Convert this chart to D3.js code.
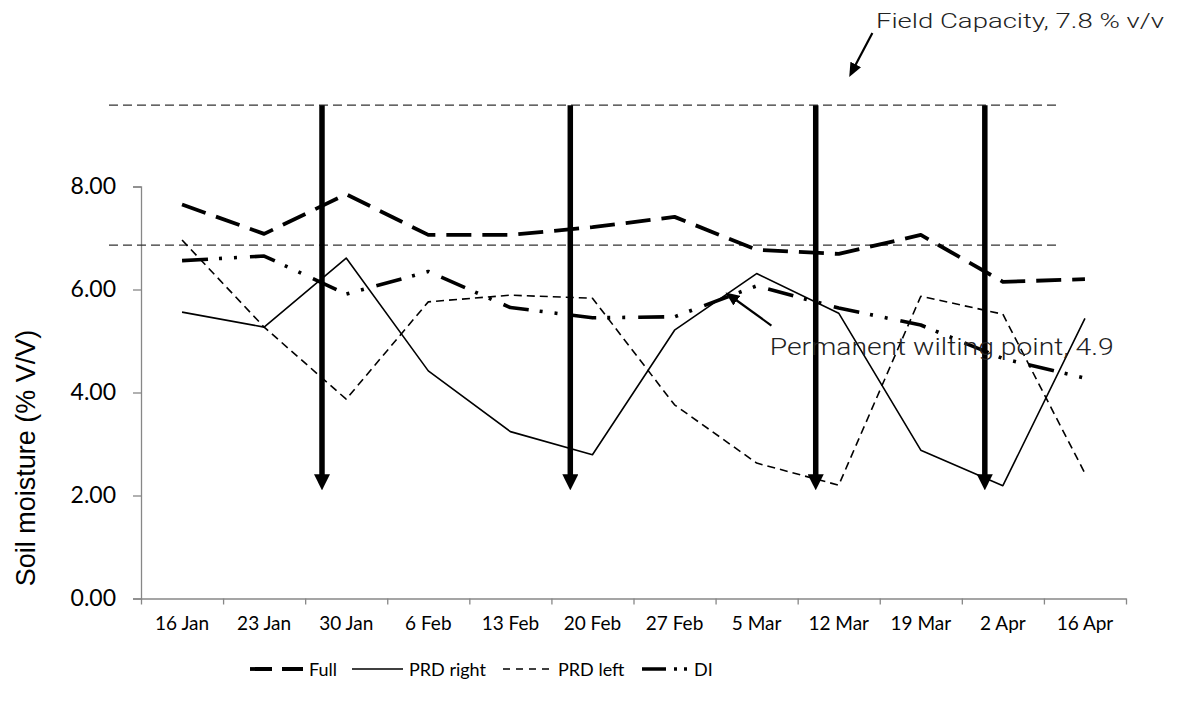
<!DOCTYPE html>
<html>
<head>
<meta charset="utf-8">
<script src="https://cdn.jsdelivr.net/npm/d3@7"></script>
<style>
  body { margin: 0; background: #fff; }
  svg { display: block; }
</style>
</head>
<body>
<svg width="1178" height="702"></svg>
<script>
const categories = ['16 Jan', '23 Jan', '30 Jan', '6 Feb', '13 Feb', '20 Feb', '27 Feb', '5 Mar', '12 Mar', '19 Mar', '2 Apr', '16 Apr'];
const full     = [7.65, 7.08, 7.85, 7.06, 7.06, 7.21, 7.41, 6.77, 6.69, 7.06, 6.15, 6.20];
const prdRight = [5.56, 5.27, 6.61, 4.42, 3.24, 2.79, 5.21, 6.31, 5.54, 2.88, 2.19, 5.44];
const prdLeft  = [6.96, 5.27, 3.87, 5.76, 5.89, 5.83, 3.76, 2.63, 2.20, 5.87, 5.52, 2.43];
const di       = [6.56, 6.65, 5.91, 6.35, 5.65, 5.45, 5.47, 6.07, 5.64, 5.31, 4.66, 4.28];
const yTicks = [0, 2, 4, 6, 8];

// reference lines (values as drawn) and irrigation arrows (category index positions)
const refLines = [9.58, 6.86];
const refLineSpan = [-0.89, 10.68];
const irrigationAt = [1.705, 4.73, 7.72, 9.78];
const irrigationSpan = [9.58, 2.10];

const svg = d3.select('svg');
const width = +svg.attr('width');
const height = +svg.attr('height');

const margin = {top: 186.5, right: 52, bottom: 103.5, left: 141};

const xIdx = d3.scaleLinear()
    .domain([-0.5, categories.length - 0.5])
    .range([margin.left, width - margin.right]);
const xBand = d3.scaleBand()
    .domain(categories)
    .range([margin.left, width - margin.right]);
const y = d3.scaleLinear()
    .domain([0, 8])
    .range([height - margin.bottom, margin.top]);

const axisColor = '#878787';

// markers
const defs = svg.append('defs');
defs.append('marker')
    .attr('id', 'bigHead')
    .attr('markerUnits', 'userSpaceOnUse')
    .attr('viewBox', '0 0 16 16')
    .attr('markerWidth', 16).attr('markerHeight', 16)
    .attr('refX', 5).attr('refY', 8)
    .attr('orient', 'auto')
  .append('path').attr('d', 'M0,0L16,8L0,16Z').attr('fill', '#000');
defs.append('marker')
    .attr('id', 'smallHead')
    .attr('markerUnits', 'userSpaceOnUse')
    .attr('viewBox', '0 0 14 12')
    .attr('markerWidth', 14).attr('markerHeight', 12)
    .attr('refX', 4).attr('refY', 6)
    .attr('orient', 'auto')
  .append('path').attr('d', 'M0,0L14,6L0,12Z').attr('fill', '#000');

// y axis
const yAxisG = svg.append('g')
    .attr('transform', `translate(${margin.left},0)`)
    .call(d3.axisLeft(y).tickValues(yTicks).tickFormat(d3.format('.2f')).tickSize(8).tickPadding(17));
yAxisG.selectAll('path, line').attr('stroke', axisColor).attr('stroke-width', 1.3);
yAxisG.selectAll('text')
    .attr('font-family', 'Lato, "Open Sans", sans-serif')
    .attr('font-size', 23)
    .attr('fill', '#000');

// x axis: ticks between categories, labels centred
const xTickAxis = d3.axisBottom(xIdx)
    .tickValues(d3.range(categories.length + 1).map(i => i - 0.5))
    .tickFormat('')
    .tickSize(6)
    .tickSizeOuter(0);
const xAxisG = svg.append('g')
    .attr('transform', `translate(0,${y(0)})`)
    .call(xTickAxis);
xAxisG.selectAll('path, line').attr('stroke', axisColor).attr('stroke-width', 1.3);

const xLabelG = svg.append('g')
    .attr('transform', `translate(0,${y(0)})`)
    .call(d3.axisBottom(xBand).tickSize(0).tickPadding(18));
xLabelG.select('.domain').remove();
xLabelG.selectAll('text')
    .attr('font-family', 'Lato, "Open Sans", sans-serif')
    .attr('font-size', 19)
    .attr('fill', '#000');

// y axis title
svg.append('text')
    .attr('transform', `translate(35,458) rotate(-90)`)
    .attr('text-anchor', 'middle')
    .attr('font-family', '"Liberation Sans", Arial, sans-serif')
    .attr('font-size', 27)
    .attr('fill', '#000')
    .text('Soil moisture (% V/V)');

// horizontal reference lines
svg.append('g').selectAll('line').data(refLines).enter().append('line')
    .attr('x1', xIdx(refLineSpan[0]))
    .attr('x2', xIdx(refLineSpan[1]))
    .attr('y1', d => y(d))
    .attr('y2', d => y(d))
    .attr('stroke', '#333')
    .attr('stroke-width', 1.3)
    .attr('stroke-dasharray', '9,5');

// series
const series = [
  {name: 'Full', values: full, width: 3.8, dash: '25,11'},
  {name: 'PRD right', values: prdRight, width: 1.6, dash: null},
  {name: 'PRD left', values: prdLeft, width: 1.6, dash: '8,5'},
  {name: 'DI', values: di, width: 3.6, dash: '26,11,3,12,3,13'}
];

const line = d3.line()
    .x((d, i) => xIdx(i))
    .y(d => y(d));

svg.append('g').selectAll('path').data(series).enter().append('path')
    .attr('d', d => line(d.values))
    .attr('fill', 'none')
    .attr('stroke', '#000')
    .attr('stroke-width', d => d.width)
    .attr('stroke-dasharray', d => d.dash)
    .attr('stroke-linejoin', 'round');

// irrigation arrows
svg.append('g').selectAll('line').data(irrigationAt).enter().append('line')
    .attr('x1', d => xIdx(d))
    .attr('x2', d => xIdx(d))
    .attr('y1', y(irrigationSpan[0]))
    .attr('y2', y(irrigationSpan[1]) - 11)
    .attr('stroke', '#000')
    .attr('stroke-width', 5.5)
    .attr('marker-end', 'url(#bigHead)');

// annotations
const annotations = [
  {text: 'Field Capacity, 7.8 % v/v', tx: 8.453, ty: 11.08, size: 21, len: 288,
   from: [8.41, 10.98], to: [8.185, 10.30]},
  {text: 'Permanent wilting point, 4.9', tx: 7.16, ty: 4.73, size: 24, len: 344,
   from: [7.18, 5.30], to: [6.72, 5.83]}
];
const annG = svg.append('g');
annG.selectAll('text').data(annotations).enter().append('text')
    .attr('x', d => xIdx(d.tx))
    .attr('y', d => y(d.ty))
    .attr('font-family', 'Roboto, "Liberation Sans", sans-serif')
    .attr('font-weight', 300)
    .attr('font-size', d => d.size)
    .attr('textLength', d => d.len)
    .attr('lengthAdjust', 'spacingAndGlyphs')
    .attr('fill', '#222')
    .text(d => d.text);
annG.selectAll('line').data(annotations).enter().append('line')
    .attr('x1', d => xIdx(d.from[0]))
    .attr('y1', d => y(d.from[1]))
    .attr('x2', d => xIdx(d.to[0]))
    .attr('y2', d => y(d.to[1]))
    .attr('stroke', '#000')
    .attr('stroke-width', 2.2)
    .attr('marker-end', 'url(#smallHead)');

// legend
const legendY = 669;
const legendItems = [
  {name: 'Full', x: 250, w: 53, width: 3.8, dash: '22,10'},
  {name: 'PRD right', x: 352, w: 51, width: 1.6, dash: null},
  {name: 'PRD left', x: 503, w: 49, width: 1.6, dash: '7,6'},
  {name: 'DI', x: 642, w: 46, width: 3.6, dash: '24,8,3,7,3,20'}
];
const legend = svg.append('g');
const li = legend.selectAll('g').data(legendItems).enter().append('g');
li.append('line')
    .attr('x1', d => d.x)
    .attr('x2', d => d.x + d.w)
    .attr('y1', legendY)
    .attr('y2', legendY)
    .attr('stroke', '#000')
    .attr('stroke-width', d => d.width)
    .attr('stroke-dasharray', d => d.dash);
li.append('text')
    .attr('x', d => d.x + d.w + 6)
    .attr('y', legendY + 7)
    .attr('font-family', 'Lato, "Open Sans", sans-serif')
    .attr('font-size', 18)
    .attr('fill', '#000')
    .text(d => d.name);
</script>
</body>
</html>
